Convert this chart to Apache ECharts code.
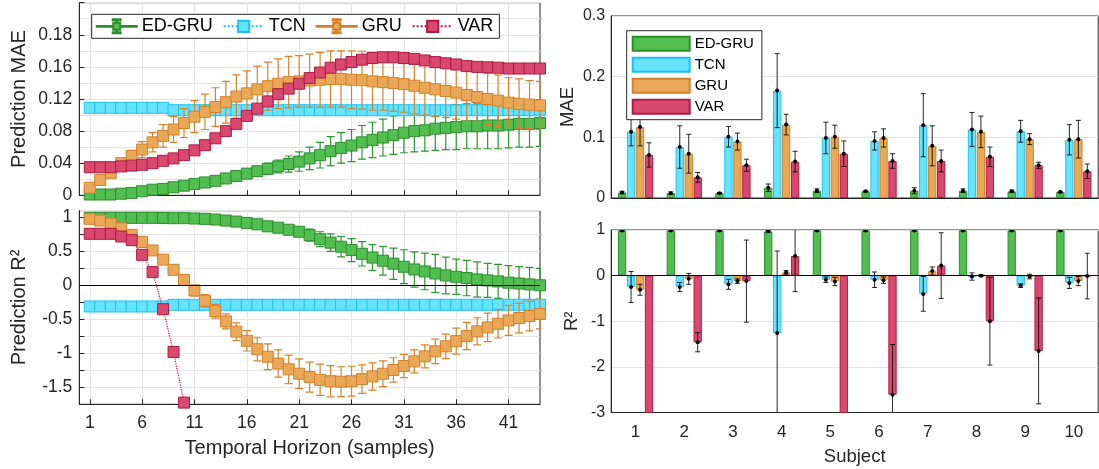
<!DOCTYPE html>
<html>
<head>
<meta charset="utf-8">
<script src="https://cdn.jsdelivr.net/npm/echarts@6/dist/echarts.min.js"></script>
<style>
html,body{margin:0;padding:0;background:#fff;}
#c{width:1099px;height:469px;}
</style>
</head>
<body>
<div id="c"></div>
<script>
// ---------------- DATA ----------------
const horizonCats = ['0','1','2','3','4','5','6','7','8','9','10','11','12','13','14','15','16','17','18','19','20','21','22','23','24','25','26','27','28','29','30','31','32','33','34','35','36','37','38','39','40','41','42','43','44'];
const maeTickLabels = ['0','0.04','0.08','0.12','0.16','0.18'];

const edMae = [0.001,0.001,0.001,0.002,0.003,0.005,0.007,0.008,0.010,0.012,0.014,0.016,0.018,0.021,0.024,0.027,0.030,0.033,0.036,0.039,0.042,0.046,0.050,0.055,0.059,0.062,0.066,0.069,0.072,0.075,0.078,0.080,0.081,0.083,0.084,0.085,0.086,0.086,0.087,0.087,0.088,0.089,0.089,0.090];
const edMaeErr = [0.001,0.001,0.001,0.001,0.001,0.001,0.001,0.001,0.001,0.001,0.0015,0.002,0.0025,0.003,0.004,0.005,0.006,0.007,0.008,0.010,0.012,0.014,0.016,0.018,0.019,0.020,0.021,0.022,0.023,0.024,0.025,0.026,0.026,0.027,0.027,0.028,0.028,0.028,0.029,0.029,0.029,0.029,0.029,0.029];
const tcnMae = [0.109,0.109,0.109,0.109,0.109,0.109,0.109,0.109,0.106,0.106,0.106,0.106,0.106,0.106,0.106,0.106,0.106,0.106,0.106,0.106,0.106,0.106,0.106,0.106,0.106,0.106,0.106,0.106,0.106,0.106,0.106,0.106,0.106,0.106,0.106,0.106,0.106,0.106,0.106,0.106,0.106,0.106,0.106,0.106];
const gruMae = [0.0095,0.019,0.028,0.040,0.049,0.057,0.066,0.074,0.082,0.090,0.098,0.104,0.110,0.116,0.123,0.127,0.132,0.136,0.139,0.141,0.142,0.143,0.144,0.145,0.145,0.144,0.1435,0.142,0.141,0.140,0.1385,0.1365,0.134,0.132,0.130,0.128,0.125,0.1225,0.120,0.118,0.1155,0.114,0.113,0.112];
const gruMaeErr = [0.002,0.002,0.003,0.004,0.007,0.010,0.012,0.014,0.016,0.018,0.020,0.022,0.024,0.026,0.027,0.028,0.029,0.030,0.031,0.032,0.032,0.033,0.034,0.035,0.035,0.036,0.036,0.036,0.035,0.035,0.035,0.035,0.034,0.034,0.033,0.033,0.033,0.033,0.032,0.032,0.031,0.031,0.030,0.030];
const varMae = [0.035,0.035,0.035,0.036,0.037,0.038,0.040,0.043,0.046,0.050,0.056,0.0625,0.071,0.080,0.089,0.099,0.108,0.117,0.126,0.133,0.139,0.146,0.153,0.159,0.163,0.166,0.169,0.171,0.172,0.172,0.171,0.170,0.168,0.166,0.1645,0.163,0.161,0.160,0.1595,0.159,0.158,0.158,0.158,0.158];

const edR2 = [0.995,0.995,0.995,0.995,0.995,0.995,0.995,0.993,0.99,0.99,0.985,0.98,0.97,0.955,0.94,0.92,0.90,0.87,0.85,0.82,0.79,0.74,0.68,0.63,0.57,0.52,0.466,0.41,0.363,0.32,0.275,0.235,0.206,0.176,0.147,0.127,0.108,0.088,0.074,0.059,0.040,0.028,0.015,0.002];
const edR2Err = [0.005,0.005,0.005,0.005,0.005,0.005,0.005,0.005,0.005,0.005,0.005,0.005,0.015,0.02,0.025,0.03,0.035,0.04,0.05,0.06,0.07,0.09,0.11,0.13,0.15,0.17,0.18,0.19,0.21,0.23,0.25,0.26,0.27,0.28,0.27,0.26,0.26,0.26,0.25,0.25,0.25,0.25,0.25,0.25];
const tcnR2 = [-0.31,-0.31,-0.31,-0.31,-0.31,-0.31,-0.31,-0.31,-0.285,-0.285,-0.285,-0.285,-0.285,-0.285,-0.285,-0.285,-0.285,-0.285,-0.285,-0.285,-0.285,-0.285,-0.285,-0.285,-0.285,-0.285,-0.285,-0.285,-0.285,-0.285,-0.285,-0.285,-0.285,-0.285,-0.285,-0.285,-0.285,-0.285,-0.285,-0.285,-0.285,-0.285,-0.285,-0.285];
const gruR2 = [0.98,0.955,0.91,0.84,0.745,0.64,0.515,0.38,0.23,0.08,-0.075,-0.225,-0.38,-0.53,-0.68,-0.815,-0.94,-1.05,-1.15,-1.235,-1.30,-1.35,-1.39,-1.41,-1.417,-1.41,-1.38,-1.34,-1.30,-1.245,-1.186,-1.118,-1.044,-0.97,-0.897,-0.82,-0.745,-0.676,-0.618,-0.564,-0.515,-0.48,-0.45,-0.42];
const gruR2Err = [0.02,0.02,0.03,0.03,0.04,0.04,0.05,0.05,0.06,0.07,0.08,0.09,0.10,0.11,0.13,0.15,0.17,0.19,0.20,0.21,0.22,0.22,0.23,0.23,0.22,0.22,0.21,0.20,0.19,0.18,0.17,0.17,0.17,0.18,0.18,0.19,0.20,0.20,0.21,0.21,0.22,0.22,0.22,0.22];
const varR2 = [0.76,0.76,0.76,0.72,0.667,0.45,0.196,-0.35,-0.98,-1.725,null,null,null,null,null,null,null,null,null,null,null,null,null,null,null,null,null,null,null,null,null,null,null,null,null,null,null,null,null,null,null,null,null,null];

const subjects = ['1','2','3','4','5','6','7','8','9','10'];
const maeSubj = {
  'ED-GRU': [0.009,0.008,0.008,0.017,0.012,0.011,0.012,0.012,0.011,0.010],
  'TCN':    [0.109,0.084,0.101,0.177,0.099,0.094,0.120,0.113,0.110,0.096],
  'GRU':    [0.117,0.073,0.093,0.121,0.101,0.099,0.086,0.109,0.097,0.097],
  'VAR':    [0.071,0.034,0.054,0.060,0.073,0.061,0.061,0.068,0.054,0.044]
};
const maeSubjErr = {
  'ED-GRU': [0.002,0.002,0.001,0.006,0.003,0.001,0.005,0.003,0.002,0.001],
  'TCN':    [0.023,0.035,0.017,0.061,0.026,0.015,0.052,0.028,0.018,0.025],
  'GRU':    [0.031,0.032,0.014,0.017,0.019,0.015,0.033,0.026,0.009,0.031],
  'VAR':    [0.020,0.008,0.010,0.017,0.021,0.012,0.018,0.016,0.005,0.012]
};
const r2Subj = {
  'ED-GRU': [0.99,0.99,0.99,0.97,0.99,0.99,0.99,0.99,0.99,0.99],
  'TCN':    [-0.25,-0.25,-0.19,-1.26,-0.09,-0.09,-0.40,-0.02,-0.22,-0.16],
  'GRU':    [-0.31,-0.07,-0.12,0.07,-0.13,-0.10,0.10,0.00,-0.02,-0.12],
  'VAR':    [-4.5,-1.46,-0.12,0.43,-4.5,-2.61,0.22,-1.00,-1.65,-0.01]
};
const r2SubjErr = {
  'ED-GRU': [0.01,0.01,0.01,0.02,0.01,0.01,0.01,0.01,0.01,0.01],
  'TCN':    [0.34,0.10,0.11,1.80,0.06,0.17,0.38,0.08,0.04,0.12],
  'GRU':    [0.12,0.12,0.05,0.04,0.09,0.07,0.09,0.02,0.05,0.10],
  'VAR':    [1.0,0.21,0.90,0.78,1.0,1.10,0.72,0.96,1.16,0.50]
};
const methods = ['ED-GRU','TCN','GRU','VAR'];

// ---------------- STYLE ----------------
const FONT = "'Liberation Sans', Arial, Helvetica, sans-serif";
const TXT = '#262626';
const GRIDC = '#e4e4e4';
const COL = {
  'ED-GRU': {fill:'#52be52', edge:'#2a8f2a', err:'#2f952f'},
  'TCN':    {fill:'#66e3ff', edge:'#1ec0f2', err:'#1ec0f2'},
  'GRU':    {fill:'#e8a858', edge:'#d48028', err:'#d6822c'},
  'VAR':    {fill:'#d9486f', edge:'#b01a40', err:'#b01a40'}
};
const BAR_W = 8.3, BAR_GAP = 0.08;
const BAR_SUFFIX = ' (bars)';
const MARK = 11;
// legend glyph for series drawn with error bars: line + small square + I-beam (40x14 box)
const ERR_ICON = 'path://M0,6.6L16.5,6.6L16.5,7.4L0,7.4Z M23.5,6.6L40,6.6L40,7.4L23.5,7.4Z ' +
  'M16.5,3.5L23.5,3.5L23.5,10.5L16.5,10.5Z M19.6,1L20.4,1L20.4,3.5L19.6,3.5Z M19.6,10.5L20.4,10.5L20.4,13L19.6,13Z ' +
  'M16,0L24,0L24,1L16,1Z M16,13L24,13L24,14L16,14Z';

const pts = arr => arr.map((v, i) => [i + 1, v]);
const errPts = (m, e) => m.map((v, i) => [i + 1, v, e[i]]);

function errRender(color) {
  return function (params, api) {
    const x = api.value(0), m = api.value(1), e = api.value(2);
    const c = api.coord([x, m]);
    const t = api.coord([x, m + e]);
    const b = api.coord([x, m - e]);
    const hw = 4;
    const style = {stroke: color, lineWidth: 1.2};
    return {type: 'group', children: [
      {type: 'line', shape: {x1: c[0], y1: t[1], x2: c[0], y2: b[1]}, style},
      {type: 'line', shape: {x1: c[0] - hw, y1: t[1], x2: c[0] + hw, y2: t[1]}, style},
      {type: 'line', shape: {x1: c[0] - hw, y1: b[1], x2: c[0] + hw, y2: b[1]}, style}
    ]};
  };
}
function barErrRender(k) {
  return function (params, api) {
    const i = api.value(0), m = api.value(1), e = api.value(2);
    const cs = params.coordSys;
    const c = api.coord([i, m]);
    const x = c[0] + (k - 1.5) * BAR_W * (1 + BAR_GAP);
    let t = api.coord([i, m + e])[1];
    let b = api.coord([i, m - e])[1];
    const y0 = cs.y, y1 = cs.y + cs.height;
    const hw = 2.5;
    const style = {stroke: '#000', lineWidth: 1, opacity: 0.85};
    const ch = [];
    const tc = Math.max(t, y0), bc = Math.min(b, y1);
    if (bc > tc) ch.push({type: 'line', shape: {x1: x, y1: tc, x2: x, y2: bc}, style});
    if (t >= y0 && t <= y1) ch.push({type: 'line', shape: {x1: x - hw, y1: t, x2: x + hw, y2: t}, style});
    if (b >= y0 && b <= y1) ch.push({type: 'line', shape: {x1: x - hw, y1: b, x2: x + hw, y2: b}, style});
    if (c[1] >= y0 && c[1] <= y1) ch.push({type: 'circle', shape: {cx: x, cy: c[1], r: 2}, style: {fill: '#000'}});
    return {type: 'group', children: ch};
  };
}

function maeLabel(v) {
  const k = Math.round(v / 0.04);
  if (Math.abs(v - k * 0.04) > 1e-6) return '';
  return k < maeTickLabels.length ? maeTickLabels[k] : '';
}
function r2Label(v) {
  const k = Math.round(v * 2);
  if (Math.abs(v * 2 - k) > 1e-6 || v > 1.0001) return '';
  return String(k / 2);
}
const catInterval = (idx) => idx >= 1 && (idx - 1) % 5 === 0;

const leftX = (gi, showLabels) => ({
  type: 'category', gridIndex: gi, data: horizonCats, boundaryGap: false,
  axisLine: {show: true, onZero: false, lineStyle: {color: TXT}},
  axisTick: {show: true, inside: true, length: 5, interval: catInterval, lineStyle: {color: TXT}},
  axisLabel: {show: showLabels, interval: catInterval, fontSize: 17.5, color: TXT, fontFamily: FONT, margin: 10},
  splitLine: {show: true, interval: catInterval, lineStyle: {color: GRIDC}},
  name: showLabels ? 'Temporal Horizon (samples)' : '', nameLocation: 'middle', nameGap: 34,
  nameTextStyle: {fontSize: 20, color: TXT, fontFamily: FONT}
});

const grids = [
  {left: 79.3, top: 2.7, width: 460.7, height: 192.6},
  {left: 79.3, top: 210.7, width: 460.7, height: 193.6},
  {left: 611.2, top: 16, width: 487, height: 182},
  {left: 611.2, top: 230, width: 487, height: 182.5}
].map(g => Object.assign(g, {show: true, borderColor: TXT, borderWidth: 1, backgroundColor: 'transparent', containLabel: false, outerBoundsMode: 'none'}));

function lineSeries(name, xi, data, dotted, z) {
  return {type: 'line', name: name, xAxisIndex: xi, yAxisIndex: xi, data: pts(data),
    symbol: 'rect', symbolSize: MARK, showSymbol: true, showAllSymbol: true, connectNulls: false,
    itemStyle: {color: COL[name].fill, borderColor: COL[name].edge, borderWidth: 1},
    lineStyle: dotted ? {color: COL[name].edge, width: 1.2, type: 'dotted'} : {color: COL[name].fill, width: 1},
    emphasis: {disabled: true}, z: z, animation: false};
}
function errSeries(tag, xi, m, e, color, z) {
  return {type: 'custom', name: tag, xAxisIndex: xi, yAxisIndex: xi, data: errPts(m, e),
    renderItem: errRender(color), clip: true, encode: {x: 0, y: 1}, silent: true, z: z};
}

const series = [];
// MAE panel (grid 0)
series.push(lineSeries('ED-GRU', 0, edMae, false, 2));
series.push(errSeries('err-ed-mae', 0, edMae, edMaeErr, COL['ED-GRU'].err, 1));
series.push(lineSeries('TCN', 0, tcnMae, true, 3));
series.push(errSeries('err-gru-mae', 0, gruMae, gruMaeErr, COL['GRU'].err, 4));
series.push(lineSeries('GRU', 0, gruMae, false, 4));
series.push(lineSeries('VAR', 0, varMae, true, 5));
// R2 panel (grid 1)
series.push(errSeries('err-ed-r2', 1, edR2, edR2Err, COL['ED-GRU'].err, 1));
series.push(lineSeries('ED-GRU', 1, edR2, false, 2));
series.push(lineSeries('TCN', 1, tcnR2, true, 3));
series.push(errSeries('err-gru-r2', 1, gruR2, gruR2Err, COL['GRU'].err, 4));
series.push(lineSeries('GRU', 1, gruR2, false, 4));
series.push(lineSeries('VAR', 1, varR2, true, 5));
series.push({type: 'line', name: 'zero-left', xAxisIndex: 1, yAxisIndex: 1, data: [], z: 6, silent: true,
  markLine: {silent: true, symbol: 'none', label: {show: false}, lineStyle: {color: '#000', width: 1, type: 'solid'}, data: [{yAxis: 0}], animation: false}});

// Subject bars (grids 2,3)
methods.forEach((m) => {
  series.push({type: 'bar', name: m + BAR_SUFFIX, xAxisIndex: 2, yAxisIndex: 2, data: maeSubj[m], barWidth: BAR_W, barGap: (BAR_GAP * 100) + '%',
    itemStyle: {color: COL[m].fill, borderColor: COL[m].edge, borderWidth: 1}, emphasis: {disabled: true}, animation: false, clip: true});
  series.push({type: 'bar', name: m + BAR_SUFFIX, xAxisIndex: 3, yAxisIndex: 3, data: r2Subj[m], barWidth: BAR_W, barGap: (BAR_GAP * 100) + '%',
    itemStyle: {color: COL[m].fill, borderColor: COL[m].edge, borderWidth: 1}, emphasis: {disabled: true}, animation: false, clip: true});
});
methods.forEach((m, k) => {
  series.push({type: 'custom', name: 'err-mae-' + m, xAxisIndex: 2, yAxisIndex: 2, silent: true, clip: true, z: 5,
    data: maeSubj[m].map((v, i) => [i, v, maeSubjErr[m][i]]), renderItem: barErrRender(k), encode: {x: 0, y: 1}});
  series.push({type: 'custom', name: 'err-r2-' + m, xAxisIndex: 3, yAxisIndex: 3, silent: true, clip: true, z: 5,
    data: r2Subj[m].map((v, i) => [i, v, r2SubjErr[m][i]]), renderItem: barErrRender(k), encode: {x: 0, y: 1}});
});
series.push({type: 'line', name: 'zero-right', xAxisIndex: 3, yAxisIndex: 3, data: [], z: 6, silent: true,
  markLine: {silent: true, symbol: 'none', label: {show: false}, lineStyle: {color: '#000', width: 1, type: 'solid'}, data: [{yAxis: 0}], animation: false}});

const subjX = (gi, showLabels) => ({
  type: 'category', gridIndex: gi, data: subjects, boundaryGap: true,
  axisLine: {show: true, onZero: false, lineStyle: {color: TXT}},
  axisTick: {show: false},
  axisLabel: {show: showLabels, fontSize: 17, color: TXT, fontFamily: FONT, margin: 11},
  splitLine: {show: false},
  name: showLabels ? 'Subject' : '', nameLocation: 'middle', nameGap: 35,
  nameTextStyle: {fontSize: 18.5, color: TXT, fontFamily: FONT}
});

const option = {
  animation: false,
  backgroundColor: '#fff',
  textStyle: {fontFamily: FONT, color: TXT},
  grid: grids,
  legend: [
    {
      left: 91.7, top: 14.3, orient: 'horizontal', z: 20,
      data: [{name: 'ED-GRU', icon: ERR_ICON}, {name: 'TCN'}, {name: 'GRU', icon: ERR_ICON}, {name: 'VAR'}],
      itemWidth: 40, itemHeight: 14, itemGap: 10,
      padding: [3, 6, 3, 4],
      borderColor: TXT, borderWidth: 1, backgroundColor: '#fff',
      textStyle: {fontSize: 18, color: '#000', fontFamily: FONT},
      selectedMode: false
    },
    {
      left: 626.7, top: 30.7, orient: 'vertical', z: 20,
      data: methods.map(m => m + BAR_SUFFIX),
      formatter: n => n.replace(BAR_SUFFIX, ''),
      icon: 'rect', itemWidth: 57, itemHeight: 14, itemGap: 5,
      padding: [5, 8, 5, 5],
      borderColor: TXT, borderWidth: 1, backgroundColor: '#fff',
      textStyle: {fontSize: 15, color: '#000', fontFamily: FONT},
      selectedMode: false
    }
  ],
  xAxis: [leftX(0, false), leftX(1, true), subjX(2, false), subjX(3, true)],
  yAxis: [
    {type: 'value', gridIndex: 0, min: 0, max: 0.24, interval: 0.04,
      axisLine: {show: true, lineStyle: {color: TXT}},
      axisTick: {show: true, inside: true, length: 5, lineStyle: {color: TXT}},
      axisLabel: {formatter: maeLabel, fontSize: 17.5, color: TXT, fontFamily: FONT, margin: 7},
      splitLine: {show: true, lineStyle: {color: GRIDC}},
      minorTick: {show: false, splitNumber: 2},
      minorSplitLine: {show: true, lineStyle: {color: GRIDC}},
      name: 'Prediction MAE', nameLocation: 'middle', nameGap: 50, nameRotate: 90,
      nameTextStyle: {fontSize: 20, color: TXT, fontFamily: FONT}},
    {type: 'value', gridIndex: 1, min: -1.75, max: 1.1, interval: 0.25,
      axisLine: {show: true, lineStyle: {color: TXT}},
      axisTick: {show: true, inside: true, length: 5, lineStyle: {color: TXT}},
      axisLabel: {formatter: r2Label, fontSize: 17.5, color: TXT, fontFamily: FONT, margin: 7, showMaxLabel: false},
      splitLine: {show: true, lineStyle: {color: GRIDC}},
      name: 'Prediction R²', nameLocation: 'middle', nameGap: 50, nameRotate: 90,
      nameTextStyle: {fontSize: 20, color: TXT, fontFamily: FONT}},
    {type: 'value', gridIndex: 2, min: 0, max: 0.3, interval: 0.1,
      axisLine: {show: true, lineStyle: {color: TXT}},
      axisTick: {show: false},
      axisLabel: {fontSize: 16, color: TXT, fontFamily: FONT, margin: 6},
      splitLine: {show: true, lineStyle: {color: GRIDC}},
      name: 'MAE', nameLocation: 'middle', nameGap: 34, nameRotate: 90,
      nameTextStyle: {fontSize: 18.5, color: TXT, fontFamily: FONT}},
    {type: 'value', gridIndex: 3, min: -3, max: 1, interval: 1,
      axisLine: {show: true, lineStyle: {color: TXT}},
      axisTick: {show: false},
      axisLabel: {fontSize: 16, color: TXT, fontFamily: FONT, margin: 6},
      splitLine: {show: true, lineStyle: {color: GRIDC}},
      name: 'R²', nameLocation: 'middle', nameGap: 30, nameRotate: 90,
      nameTextStyle: {fontSize: 18.5, color: TXT, fontFamily: FONT}}
  ],
  series: series
};

const chart = echarts.init(document.getElementById('c'), null, {renderer: 'canvas'});
chart.setOption(option);
</script>
</body>
</html>
